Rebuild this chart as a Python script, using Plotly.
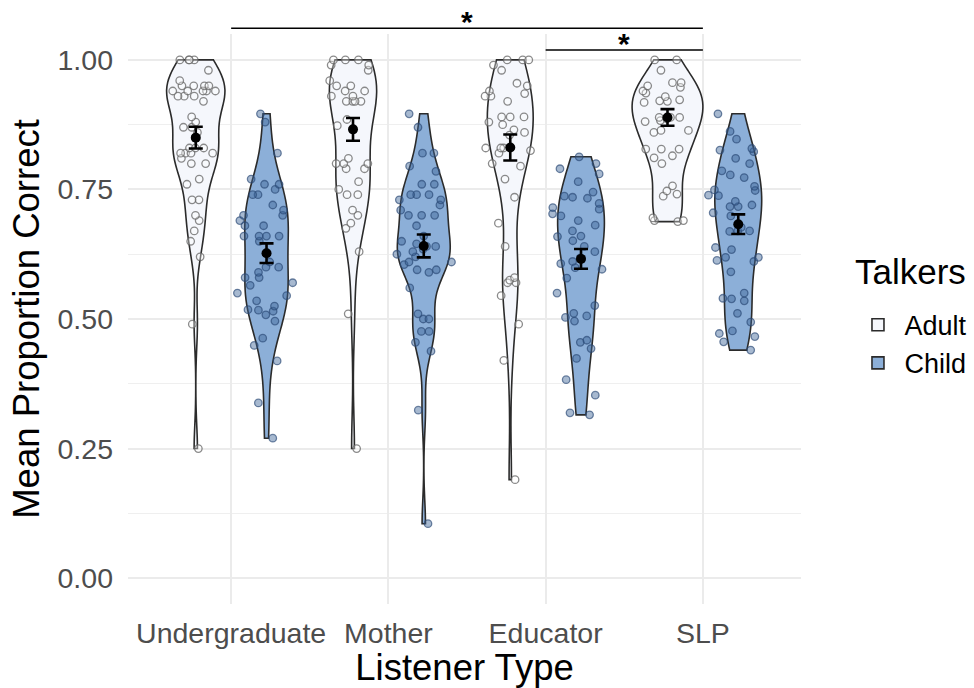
import numpy as np
import plotly.graph_objects as go

# ---------------- data ----------------
categories = ["Undergraduate", "Mother", "Educator", "SLP"]
talkers = ["Adult", "Child"]

adult_undergraduate = [1.0, 1.0, 1.0, 0.98, 1.0, 0.95, 0.94, 0.94, 0.94, 0.95, 0.95, 0.93, 0.93, 0.96,
                       0.94, 0.92, 0.94, 0.93, 0.95, 0.89, 0.88, 0.87, 0.87, 0.86, 0.83, 0.83, 0.82, 0.82,
                       0.82, 0.82, 0.83, 0.81, 0.80, 0.80, 0.77, 0.76, 0.73, 0.73, 0.69, 0.70, 0.67, 0.65,
                       0.62, 0.49, 0.25]
child_undergraduate = [0.896, 0.88, 0.82, 0.77, 0.75, 0.76, 0.74, 0.74, 0.76, 0.72, 0.71, 0.70, 0.69, 0.70,
                       0.68, 0.68, 0.66, 0.66, 0.66, 0.65, 0.66, 0.61, 0.60, 0.59, 0.60, 0.58, 0.58, 0.57,
                       0.565, 0.55, 0.545, 0.535, 0.525, 0.515, 0.517, 0.518, 0.508, 0.496, 0.463, 0.449,
                       0.419, 0.338, 0.27]
adult_mother = [1.0, 1.0, 0.99, 0.98, 0.99, 1.0, 0.96, 0.95, 0.95, 0.94, 0.94, 0.93, 0.92, 0.92, 0.92,
                0.93, 0.92, 0.885, 0.873, 0.81, 0.79, 0.80, 0.80, 0.79, 0.80, 0.765, 0.75, 0.74, 0.74,
                0.71, 0.70, 0.685, 0.675, 0.63, 0.51, 0.25]
child_mother = [0.896, 0.87, 0.82, 0.82, 0.785, 0.795, 0.76, 0.76, 0.74, 0.74, 0.74, 0.73, 0.73, 0.72,
                0.71, 0.70, 0.70, 0.70, 0.68, 0.66, 0.65, 0.64, 0.63, 0.64, 0.61, 0.62, 0.605, 0.595,
                0.61, 0.595, 0.59, 0.56, 0.635, 0.645, 0.625, 0.51, 0.50, 0.50, 0.476, 0.476, 0.455,
                0.438, 0.324, 0.105]
adult_educator = [0.99, 1.0, 1.0, 0.98, 1.0, 0.95, 0.955, 0.93, 0.94, 0.935, 0.93, 0.92, 0.89, 0.89,
                  0.89, 0.88, 0.875, 0.865, 0.855, 0.86, 0.83, 0.825, 0.83, 0.83, 0.82, 0.80, 0.795,
                  0.77, 0.735, 0.685, 0.64, 0.57, 0.575, 0.58, 0.57, 0.545, 0.49, 0.42, 0.19]
child_educator = [0.813, 0.80, 0.79, 0.78, 0.765, 0.733, 0.735, 0.745, 0.737, 0.723, 0.715, 0.712,
                  0.703, 0.699, 0.69, 0.681, 0.67, 0.66, 0.651, 0.659, 0.64, 0.63, 0.611, 0.607, 0.599,
                  0.618, 0.596, 0.579, 0.55, 0.526, 0.511, 0.503, 0.496, 0.506, 0.455, 0.443, 0.459,
                  0.424, 0.383, 0.353, 0.319, 0.315]
adult_slp = [1.0, 1.0, 0.98, 0.956, 0.95, 0.94, 0.936, 0.956, 0.947, 0.929, 0.92, 0.918, 0.921, 0.923,
             0.881, 0.883, 0.889, 0.886, 0.889, 0.889, 0.864, 0.864, 0.86, 0.828, 0.815, 0.811, 0.828,
             0.828, 0.80, 0.757, 0.741, 0.747, 0.737, 0.688, 0.69, 0.69, 0.695]
child_slp = [0.896, 0.862, 0.847, 0.826, 0.829, 0.823, 0.81, 0.80, 0.786, 0.778, 0.773, 0.756, 0.749,
             0.739, 0.738, 0.748, 0.727, 0.717, 0.717, 0.705, 0.72, 0.699, 0.669, 0.638, 0.677, 0.67,
             0.67, 0.634, 0.613, 0.611, 0.619, 0.619, 0.591, 0.55, 0.54, 0.535, 0.511, 0.539, 0.494,
             0.477, 0.472, 0.456, 0.466, 0.44]

adult_means = [0.850, 0.866, 0.831, 0.889]
adult_se = [0.021, 0.022, 0.025, 0.016]
child_means = [0.627, 0.641, 0.616, 0.683]
child_se = [0.019, 0.022, 0.019, 0.019]

y_ticks = [0.0, 0.25, 0.5, 0.75, 1.0]
y_tick_labels = ["0.00", "0.25", "0.50", "0.75", "1.00"]

sig_pairs = [("Undergraduate", "SLP"), ("Educator", "SLP")]
sig_levels = [1.061, 1.019]
sig_labels = ["*", "*"]

legend_title = "Talkers"

# ---------------- styling ----------------
FONT = "Liberation Sans, Arial, Helvetica, sans-serif"
fills = {"Adult": "#F5F7FC", "Child": "#8CAFD8"}
pt_fill = {"Adult": "rgba(255,255,255,0.35)", "Child": "rgba(60,100,150,0.45)"}
pt_line = {"Adult": "rgba(100,100,100,0.75)", "Child": "rgba(40,70,115,0.65)"}
dodge = {"Adult": -0.225, "Child": 0.225}
full_width = 0.45
Y_RANGE = [-0.05, 1.05]
X_RANGE = [0.344, 4.624]

data = {
    ("Adult", "Undergraduate"): adult_undergraduate,
    ("Child", "Undergraduate"): child_undergraduate,
    ("Adult", "Mother"): adult_mother,
    ("Child", "Mother"): child_mother,
    ("Adult", "Educator"): adult_educator,
    ("Child", "Educator"): child_educator,
    ("Adult", "SLP"): adult_slp,
    ("Child", "SLP"): child_slp,
}
summary = {"Adult": (adult_means, adult_se), "Child": (child_means, child_se)}
positions = {c: i + 1 for i, c in enumerate(categories)}


def bw_nrd0(x):
    x = np.asarray(x, float)
    sd = x.std(ddof=1)
    q75, q25 = np.percentile(x, [75, 25])
    lo = min(sd, (q75 - q25) / 1.34)
    if lo <= 0:
        lo = sd if sd > 0 else 1.0
    return 0.9 * lo * len(x) ** -0.2


def max_density(x, bw):
    x = np.asarray(x, float)
    grid = np.linspace(x.min(), x.max(), 512)
    d = np.exp(-0.5 * ((grid[:, None] - x[None, :]) / bw) ** 2).sum(1)
    d /= len(x) * bw * np.sqrt(2 * np.pi)
    return d.max()


bws = {k: bw_nrd0(v) for k, v in data.items()}
maxd = {k: max_density(v, bws[k]) for k, v in data.items()}
global_max = max(maxd.values())

fig = go.Figure()

# violins (ggplot scale = "area")
for t in talkers:
    for ci, c in enumerate(categories):
        vals = data[(t, c)]
        fig.add_trace(go.Violin(
            x0=positions[c] + dodge[t], y=vals, name=t, legendgroup=t,
            showlegend=(ci == 0), orientation="v",
            width=full_width * maxd[(t, c)] / global_max,
            bandwidth=bws[(t, c)], spanmode="hard", scalemode="width",
            fillcolor=fills[t], line=dict(color="#2b2b2b", width=1.6),
            points=False, box_visible=False, meanline_visible=False,
            opacity=1, hoverinfo="y",
        ))

# jittered points
for t in talkers:
    for c in categories:
        vals = data[(t, c)]
        fig.add_trace(go.Violin(
            x0=positions[c] + dodge[t], y=vals, name=t, legendgroup=t, showlegend=False,
            width=0.42, spanmode="hard", points="all", jitter=1.0, pointpos=0,
            fillcolor="rgba(0,0,0,0)", line=dict(color="rgba(0,0,0,0)", width=0),
            marker=dict(size=7.5, color=pt_fill[t], line=dict(color=pt_line[t], width=1.3)),
            box_visible=False, meanline_visible=False, hoveron="points",
        ))

# means with standard errors
for t in talkers:
    means, se = summary[t]
    fig.add_trace(go.Scatter(
        x=[positions[c] + dodge[t] for c in categories], y=means, mode="markers",
        marker=dict(color="black", size=10), showlegend=False,
        error_y=dict(type="data", array=se, visible=True, color="black", thickness=2.6, width=7),
    ))

# significance brackets
span = Y_RANGE[1] - Y_RANGE[0]
for (a, b), lev, lab in zip(sig_pairs, sig_levels, sig_labels):
    yp = (lev - Y_RANGE[0]) / span
    fig.add_shape(type="line", xref="x", yref="paper", x0=positions[a], x1=positions[b],
                  y0=yp, y1=yp, line=dict(color="black", width=1.6))
    fig.add_annotation(x=(positions[a] + positions[b]) / 2, xref="x", y=yp, yref="paper",
                       text="<b>" + lab + "</b>", showarrow=False, yanchor="middle", yshift=7,
                       font=dict(size=30, color="black", family=FONT))

# legend title placed as text beside the legend
fig.add_annotation(text=legend_title, xref="paper", yref="paper", x=1.078, y=0.583,
                   xanchor="left", yanchor="middle", showarrow=False,
                   font=dict(size=35, color="black", family=FONT))

minor_ticks = [(y_ticks[i] + y_ticks[i + 1]) / 2 for i in range(len(y_ticks) - 1)]

fig.update_layout(
    width=974, height=688,
    margin=dict(l=128, r=173, t=34, b=84, autoexpand=False),
    paper_bgcolor="white", plot_bgcolor="white",
    font=dict(family=FONT, color="black"),
    violinmode="overlay",
    legend=dict(font=dict(size=27, family=FONT), x=1.075, xanchor="left",
                y=0.532, yanchor="top", tracegroupgap=0, itemwidth=43,
                bgcolor="rgba(0,0,0,0)"),
)
fig.update_xaxes(
    range=X_RANGE, tickmode="array", tickvals=[positions[c] for c in categories], ticktext=categories,
    showgrid=True, gridcolor="#EBEBEB", gridwidth=2, zeroline=False, showline=False, ticks="",
    tickfont=dict(size=28.5, color="#4D4D4D", family=FONT), ticklabelstandoff=9,
    title=dict(text="Listener Type", font=dict(size=36.5, color="black", family=FONT), standoff=3),
    automargin=False,
)
fig.update_yaxes(
    range=Y_RANGE, tickmode="array", tickvals=y_ticks, ticktext=y_tick_labels,
    showgrid=True, gridcolor="#EBEBEB", gridwidth=2, zeroline=False, showline=False, ticks="",
    tickfont=dict(size=28.5, color="#4D4D4D", family=FONT), ticklabelstandoff=14,
    minor=dict(tickmode="array", tickvals=minor_ticks, showgrid=True, gridcolor="#EFEFEF", gridwidth=1),
    title=dict(text="Mean Proportion Correct", font=dict(size=36.5, color="black", family=FONT), standoff=6),
    automargin=False,
)

# remove the browser's default 8px page margin so the figure fills the window
fig.write_html("out.html", config={"displayModeBar": False},
               post_script="document.body.style.margin='0';")
